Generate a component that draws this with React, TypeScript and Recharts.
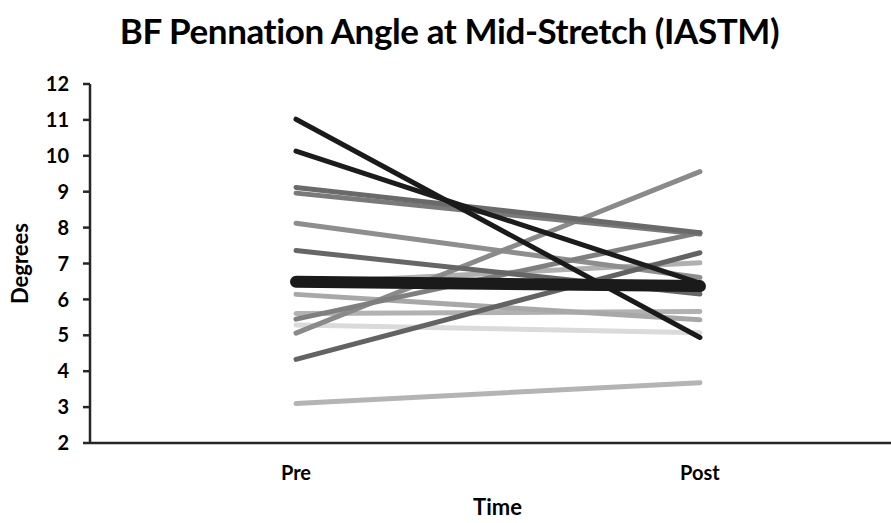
import { CartesianGrid, Label, Line, LineChart, XAxis, YAxis } from 'recharts';

// Ángulo de peneación del BF: una línea por sujeto (Pre -> Post) y la media en negro grueso.
const tiempos = ['Pre', 'Post'];
const s01 = [11.02, 4.94];
const s02 = [10.13, 6.45];
const s03 = [9.12, 7.86];
const s04 = [8.96, 7.82];
const s05 = [8.12, 6.61];
const s06 = [7.36, 6.15];
const s07 = [6.14, 5.43];
const s08 = [5.61, 5.66];
const s09 = [5.45, 7.86];
const s10 = [5.29, 5.07];
const s11 = [5.06, 9.56];
const s12 = [4.33, 7.3];
const s13 = [3.1, 3.68];
const s14 = [6.45, 7.02];
const media = [6.49, 6.37];
const ticksY = [2, 3, 4, 5, 6, 7, 8, 9, 10, 11, 12];

const sujetos = [s14, s08, s13, s10, s07, s05, s11, s09, s06, s12, s04, s03, s02, s01];
const grises = [
  '#b0b0b0', '#b2b2b2', '#b4b4b4', '#dadada', '#a8a8a8', '#8e8e8e', '#8a8a8a',
  '#7f7f7f', '#666666', '#636363', '#7a7a7a', '#6a6a6a', '#1c1c1c', '#1a1a1a',
];

const datos = tiempos.map((t, i) => {
  const fila: Record<string, number | string> = { x: i, t, media: media[i] };
  sujetos.forEach((s, k) => {
    fila[`s${k}`] = s[i];
  });
  return fila;
});

const fuente = 'Lato, "Open Sans", sans-serif';
const eje = '#262626';

export default function App() {
  return (
    <div style={{ position: 'absolute', left: 0, top: 0, width: 891, height: 523, background: '#fff' }}>
      <div
        style={{
          position: 'absolute',
          left: 0,
          top: 8,
          width: 891,
          textAlign: 'center',
          fontFamily: fuente,
          fontWeight: 700,
          fontSize: 35,
          letterSpacing: -0.4,
          color: '#000',
          lineHeight: '44px',
          paddingLeft: 8,
          boxSizing: 'border-box',
        }}
      >
        BF Pennation Angle at Mid-Stretch (IASTM)
      </div>
      <LineChart
        width={891}
        height={523}
        data={datos}
        margin={{ top: 84, right: 0, bottom: 0, left: 30 }}
        style={{ position: 'absolute', left: 0, top: 0 }}
      >
        <CartesianGrid horizontal={false} vertical={false} />
        <XAxis
          dataKey="x"
          type="number"
          domain={[-0.51, 1.473]}
          ticks={[0, 1]}
          tickFormatter={(v: number) => tiempos[v]}
          height={80}
          axisLine={{ stroke: eje, strokeWidth: 2.5 }}
          tickLine={false}
          tickMargin={17}
          tick={{ fill: '#000', fontSize: 20, fontWeight: 700, fontFamily: fuente }}
          allowDataOverflow
        >
          <Label
            value="Time"
            position="insideBottom"
            offset={8}
            dx={7}
            style={{ fill: '#000', fontSize: 22, fontWeight: 700, fontFamily: fuente }}
          />
        </XAxis>
        <YAxis
          type="number"
          domain={[2, 12]}
          ticks={ticksY}
          interval={0}
          width={60}
          axisLine={{ stroke: eje, strokeWidth: 2.5 }}
          tickLine={{ stroke: eje, strokeWidth: 2.5 }}
          tickSize={7}
          tickMargin={14}
          tick={{ fill: '#000', fontSize: 20, fontWeight: 700, fontFamily: fuente }}
        >
          <Label
            value="Degrees"
            angle={-90}
            position="insideLeft"
            offset={-10}
            style={{ fill: '#000', fontSize: 22, fontWeight: 700, fontFamily: fuente, textAnchor: 'middle' }}
          />
        </YAxis>
        {sujetos.map((_, k) => (
          <Line
            key={k}
            dataKey={`s${k}`}
            type="linear"
            stroke={grises[k]}
            strokeWidth={5}
            strokeLinecap="round"
            dot={false}
            activeDot={false}
            isAnimationActive={false}
          />
        ))}
        <Line
          dataKey="media"
          type="linear"
          stroke="#1a1a1a"
          strokeWidth={12}
          strokeLinecap="round"
          dot={false}
          activeDot={false}
          isAnimationActive={false}
        />
      </LineChart>
    </div>
  );
}
